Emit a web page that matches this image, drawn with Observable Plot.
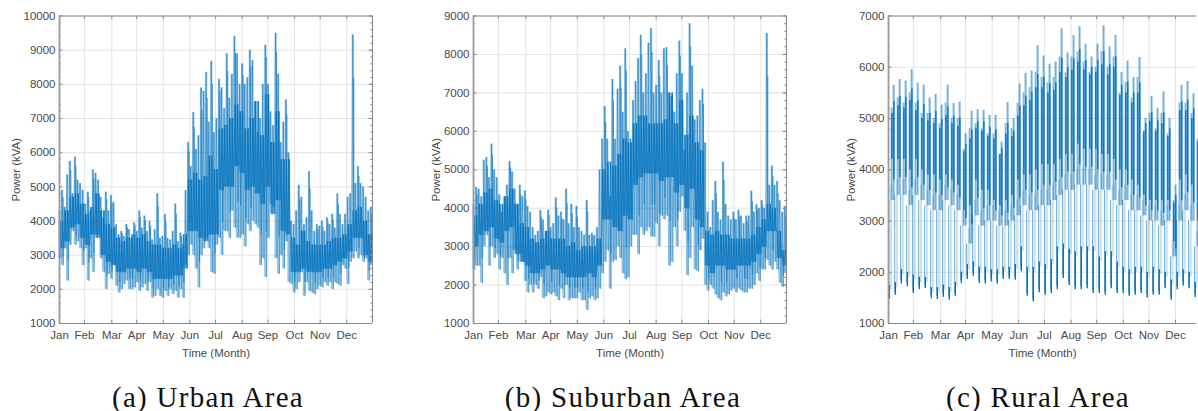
<!DOCTYPE html>
<html><head><meta charset="utf-8">
<script src="https://cdn.jsdelivr.net/npm/d3@7"></script>
<script src="https://cdn.jsdelivr.net/npm/@observablehq/plot@0.6"></script>
<style>
html,body{margin:0;padding:0;background:#fff;width:1198px;height:411px;overflow:hidden}
#wrap{position:relative;width:1198px;height:411px}
#wrap svg{position:absolute;top:0;overflow:visible}
.cap{position:absolute;top:381px;font-family:"Liberation Serif",serif;font-size:29px;letter-spacing:1.3px;color:#111;white-space:nowrap;transform:translateX(-50%);line-height:32px}
</style></head><body><div id="wrap"></div>
<script>
const monthNames=["Jan","Feb","Mar","Apr","May","Jun","Jul","Aug","Sep","Oct","Nov","Dec"];
const monthDays=[0,29,61,90,121,152,182,213,243,274,304,335];
const captions=["(a) Urban Area","(b) Suburban Area","(c) Rural Area"];

// Urban: sampled every 3 days (peak/trough) and every 6 days (dense core)
const urbanHi=[4300,4900,4400,5350,5750,4800,5870,5200,5100,4900,
4500,4850,4300,5500,5400,5200,4700,4100,4850,4300,
4750,4550,3900,3600,3700,3550,3900,3750,3500,3950,
3700,4300,3800,4150,3700,4000,3450,3750,4800,3500,
3550,4200,3500,3450,3700,4500,3400,3650,3300,4900,
6300,5600,7180,6100,6500,7900,7800,8350,6900,8680,
6600,7000,8150,7900,7300,8900,7600,8300,9400,8900,
8000,8600,8000,8200,9000,8700,7500,6600,7000,8000,
9150,8000,7200,6800,9500,8300,6300,6900,7550,6000,
4000,3900,4300,5050,4700,3900,4100,5450,4300,3700,
3900,3850,4000,3700,4100,3900,4200,3800,4800,4200,
3900,4200,4700,4800,9450,5100,5600,5100,5000,4700,
4300,4400];
const urbanLo=[2900,2700,3200,2250,3300,3700,3300,3400,3200,2700,
3200,2250,2900,2500,3600,3600,2900,2500,2000,2450,
2300,2700,2100,1900,2000,2150,2250,2000,2000,2050,
2200,1950,2050,2150,1950,2200,1750,1800,2000,1800,
1750,1950,1800,2000,1850,1950,1750,2000,1750,2700,
3000,3300,3000,2600,2050,3000,3200,3500,3200,2500,
2450,3300,3500,3000,3700,3700,3500,4300,3800,3500,
3500,3600,3250,3900,3700,4000,3900,3800,2700,2900,
2350,3500,4500,4400,2900,2450,3000,2600,3400,2200,
2150,1900,2000,2200,2500,1800,2200,1950,1900,1850,
2000,2100,2050,2200,2100,2200,2000,2200,2150,2100,
2700,2600,2150,2800,2900,3100,2900,3000,2800,2900,
2250,2700];
const urbanCoreHi=[4000,4300,4700,4800,4500,4200,4400,4800,4300,3900,
3800,3500,3400,3500,3600,3500,3600,3400,3300,3300,
3200,3200,3300,3200,3600,5200,5400,5200,5300,5900,
5500,6700,6800,7000,7400,7200,6700,7000,7500,6500,
7700,6300,7200,5800,5800,3500,3300,3700,3400,3300,
3300,3300,3400,3500,3500,3600,3900,4300,4400,4000,3600];
const urbanCoreLo=[3200,3400,3800,3900,3500,3300,3600,3500,3000,2800,
2700,2500,2500,2600,2600,2500,2600,2500,2300,2300,
2300,2300,2400,2400,2600,3700,3700,3500,3400,3600,
3600,4900,5000,5000,5600,5400,4900,5000,4800,4500,
5000,4200,4600,3700,3600,2500,2500,2600,2500,2500,
2500,2600,2600,2700,2800,2900,3100,3500,3500,3000,2800];

// Suburban
const suburbanHi=[4100,4550,4500,4300,5250,5320,4800,5670,5000,4800,
4350,3900,4300,4600,5220,4950,4500,4100,4600,4300,
4450,4050,3900,3500,3300,3400,3950,3700,3400,3950,
3500,3600,4270,3800,3900,3700,4500,3600,4100,3500,
4050,3500,3400,3300,4200,3300,3350,3300,3500,5000,
5800,6650,5800,4300,7350,5800,7100,7700,6500,8150,
6000,5800,6800,7300,7900,8500,7000,7500,8300,8680,
7000,7200,7850,7000,8150,8180,7000,6900,6500,7500,
8350,7500,5500,7000,8800,7700,6300,6400,6800,7100,
5700,3900,3500,4200,4700,3900,3700,5200,4100,3800,
3700,3900,3700,3950,3800,3600,3800,3800,4450,3900,
4100,4000,4200,4000,8550,4600,5100,4600,4700,4200,
3900,4050];
const suburbanLo=[2400,2500,2500,2050,3000,3300,2500,3000,2700,2800,
2400,2700,2300,2000,2700,2300,2900,2400,2800,2600,
2100,1800,2000,1800,2000,1900,2200,1650,1700,1800,
1750,1800,1700,1600,1900,1650,2000,1600,1650,1650,
1650,1800,1600,1600,1350,1650,1700,1600,1650,1900,
2300,2600,2900,1900,2600,2650,3000,2700,2300,2150,
2200,3000,3300,3300,2800,3500,3300,3400,3500,3250,
3250,3600,3000,3800,3700,3800,2500,2600,3500,3000,
3900,4300,3400,2250,2700,3500,2400,2350,2900,3200,
2000,1850,2000,1900,1750,1650,1600,1800,1700,1750,
1850,1900,1800,1900,1850,1800,1800,1900,1900,2000,
2300,2100,2400,2400,2650,2500,2400,2600,2400,2050,
1950,2300];
const suburbanCoreHi=[3800,4100,4400,4500,4200,4100,4300,4500,4100,3600,
3500,3200,3100,3200,3400,3200,3200,3200,3000,3100,
2900,3000,3000,3000,3200,5000,5200,5100,5400,5800,
5700,6200,6400,6400,6200,6200,6200,6300,7000,6200,
6800,5900,6400,5700,5500,3400,3300,3400,3300,3300,
3200,3200,3200,3200,3300,3500,3700,4100,4000,3400,2900];
const suburbanCoreLo=[3000,3300,3400,3500,3200,3100,3400,3500,2800,2600,
2500,2300,2300,2400,2500,2400,2400,2300,2200,2200,
2200,2200,2300,2200,2500,3700,3700,3500,3400,3800,
3700,4600,4800,4900,4900,4900,4700,4800,4800,4400,
4600,4000,4500,3700,3500,2500,2300,2500,2500,2400,
2400,2500,2500,2500,2600,2800,3000,3400,3400,2700,2500];

// Rural: one entry per week (weekend trough, then the working-day band)
const ruralDipDay=[1,8,15,22,29,36,43,50,57,64,71,78,85,92,99,106,113,120,127,134,141,148,155,162,169,176,183,190,197,204,211,218,225,232,239,246,253,260,267,274,281,288,295,302,309,316,323,330,337,344,351,358];
const ruralDipLo=[1470,1550,1770,1715,1585,1660,1680,1480,1470,1510,1455,1530,1780,1860,1920,1780,1770,1810,1770,1860,1860,1845,2010,1530,1420,1600,1550,1585,1660,1880,1740,1660,1660,1680,1585,1585,1550,1680,1585,1585,1530,1550,1585,1500,1550,1550,1680,1455,1660,1730,1680,1505];
const ruralDipTop=[1750,1800,2050,2000,1950,1900,1900,1700,1700,1750,1700,1800,2000,2150,2200,2100,2100,2050,2050,2100,2100,2150,2500,2100,2100,2200,2150,2250,2500,2550,2450,2400,2500,2500,2500,2300,2400,2400,2200,2100,2050,2100,2100,2000,2100,2050,2000,1850,2000,2050,2000,1800];
const ruralBandLo=[3400,3500,3500,3300,3500,3400,3300,3200,3200,3400,3300,3200,2900,2550,3100,2900,3000,3000,2900,2900,3000,3100,3300,3200,3200,3300,3300,3400,3500,3600,3600,3700,3700,3700,3600,3600,3600,3400,3300,3400,3200,3200,3100,3000,3000,2900,3000,2300,3000,3200,3000,2500];
const ruralHi1=[5650,5760,5730,5950,5690,5650,5400,5470,5260,5650,5290,5320,4700,5140,5170,5160,5060,5060,4540,5310,5000,5680,5880,5930,6420,6220,6060,6100,6750,6280,6620,6790,6450,6200,6450,6810,6400,6620,5900,6120,5800,6190,5000,5430,5200,5520,5000,3700,5650,5720,5480,5020];
const ruralHi2=[5200,5400,5300,5500,5300,5100,5100,5000,4900,5300,5000,5000,4400,4800,4900,4800,4700,4700,4300,4900,4800,5300,5500,5600,5900,5800,5700,5800,6200,5900,6200,6300,6100,5900,6000,6300,6000,6200,5500,5700,5400,5800,4700,5100,4800,5100,4700,3400,5300,5300,5100,4600];
const ruralCoreHi=[5000,5100,5100,5200,5000,4900,4800,4800,4700,4800,4800,4700,4300,4400,4700,4700,4600,4500,4300,4500,4500,4800,5000,5100,5300,5400,5300,5300,5600,5700,5700,5900,5800,5800,5800,5800,5700,5800,5400,5300,5200,5200,4800,4800,4700,4700,4600,3300,5000,5000,4900,4500];
const ruralCoreLo=[4200,4200,4200,4000,4200,4000,3900,3900,3800,3900,3800,3700,3200,3300,3800,3600,3600,3400,3300,3400,3500,3800,3900,3900,4000,4100,4100,4100,4200,4300,4300,4500,4400,4400,4400,4300,4300,4200,4000,4000,3800,3700,3500,3400,3400,3400,3400,2600,3800,3900,3700,3000];

const BLUE="#0072BD", TXT="#4a4a4a", FONT="Liberation Sans, Arial, sans-serif";

function gridMarks(major){
  return [
    Plot.ruleX(monthDays,{stroke:"#e4e4e4",strokeWidth:1}),
    Plot.ruleY(major,{stroke:"#e4e4e4",strokeWidth:1})
  ];
}
function axisMarks(o,rightFrame){
  const {xEnd,yMin,yMax,major,minor}=o;
  const c="#8a8a8a", dy=(yMax-yMin)*0.011, dx=xEnd*0.011;
  const out=[
    Plot.axisX({ticks:monthDays,tickFormat:(d)=>monthNames[monthDays.indexOf(d)],tickSize:0,tickPadding:7,
      label:"Time (Month)",labelAnchor:"center",labelArrow:"none",labelOffset:33,fontSize:11.5,color:TXT,fontFamily:FONT}),
    Plot.axisY({ticks:major,tickFormat:d3.format("d"),tickSize:0,tickPadding:4,
      label:"Power (kVA)",labelAnchor:"center",labelArrow:"none",labelOffset:o.ylabOff,fontSize:11.5,color:TXT,fontFamily:FONT}),
    Plot.ruleY(major,{x1:0,x2:dx,stroke:c}),
    Plot.ruleY(minor,{x1:0,x2:dx/2,stroke:c}),
    Plot.ruleX(monthDays,{y1:yMin,y2:yMin+dy,stroke:c}),
    Plot.ruleX(monthDays,{y1:yMax,y2:yMax-dy,stroke:c}),
    Plot.ruleY([yMin,yMax],{stroke:c,strokeWidth:1.2}),
    Plot.ruleX([0],{stroke:"#9a9a9a",strokeWidth:1.8})
  ];
  if(rightFrame){
    out.push(Plot.ruleX([xEnd],{stroke:c,strokeWidth:1.1}));
    out.push(Plot.ruleY(major,{x1:xEnd-dx,x2:xEnd,stroke:c}));
    out.push(Plot.ruleY(minor,{x1:xEnd-dx/2,x2:xEnd,stroke:c}));
  }
  return out;
}
function base(o){
  return {width:o.left+o.w+2,height:372,marginLeft:o.left,marginRight:2,marginTop:15.5,marginBottom:49,
    x:{domain:[0,o.xEnd],axis:null},y:{domain:[o.yMin,o.yMax],axis:null},
    style:{background:"transparent",fontFamily:FONT,position:"absolute",left:(o.x0-o.left)+"px",overflow:"visible"}};
}
function densePanel(o){
  const idx=d3.range(o.hi.length);
  const n=o.coreHi.length;
  const cH=i=>o.coreHi[Math.min(n-1,i>>1)], cL=i=>o.coreLo[Math.min(n-1,i>>1)];
  const isPeak=i=>o.hi[i]>=(o.hi[i-1]??0)&&o.hi[i]>=(o.hi[i+1]??0);
  const isPit=i=>o.lo[i]<=(o.lo[i-1]??1e9)&&o.lo[i]<=(o.lo[i+1]??1e9);
  const zig=idx.flatMap(i=>[{d:i*3,v:o.hi[i]},{d:i*3+1.5,v:o.lo[i]}]);
  const coreZig=idx.flatMap(i=>[{d:i*3+.7,v:cH(i)},{d:i*3+2.2,v:cL(i)}]);
  return Plot.plot({...base(o),marks:[
    ...gridMarks(o.major),
    Plot.ruleX(idx,{x:i=>i*3,y1:i=>o.lo[i],y2:i=>o.hi[i],stroke:BLUE,strokeOpacity:.42,strokeWidth:2.3}),
    Plot.line(zig,{x:"d",y:"v",stroke:BLUE,strokeOpacity:.55,strokeWidth:.7}),
    Plot.ruleX(idx,{x:i=>i*3+1.2,y1:i=>isPit(i)?(cL(i)+o.lo[i])/2:cL(i),y2:i=>isPeak(i)?o.hi[i]-(o.hi[i]-cH(i))*.25:cH(i),stroke:BLUE,strokeOpacity:.65,strokeWidth:1.1}),
    Plot.ruleX(idx,{x:i=>i*3+.3,y1:i=>cL(i),y2:i=>cH(i),stroke:BLUE,strokeOpacity:.5,strokeWidth:1.4}),
    Plot.line(coreZig,{x:"d",y:"v",stroke:BLUE,strokeOpacity:.7,strokeWidth:.8}),
    ...axisMarks(o,true)
  ]});
}
function ruralPanel(o){
  const w=d3.range(ruralDipDay.length);
  const day=i=>ruralDipDay[i];
  return Plot.plot({...base(o),marks:[
    ...gridMarks(o.major),
    Plot.ruleX(w,{x:i=>day(i)-.8,y1:i=>ruralDipLo[i]+60,y2:i=>ruralBandLo[i],stroke:BLUE,strokeOpacity:.55,strokeWidth:1.1}),
    Plot.ruleX(w,{x:i=>day(i)+1.8,y1:i=>ruralDipTop[i]-100,y2:i=>ruralBandLo[i]+300,stroke:BLUE,strokeOpacity:.2,strokeWidth:2.2}),
    Plot.ruleX(w,{x:i=>day(i)+2.6,y1:i=>ruralBandLo[i],y2:i=>ruralHi2[i],stroke:BLUE,strokeOpacity:.5,strokeWidth:1.8}),
    Plot.ruleX(w,{x:i=>day(i)+5,y1:i=>ruralBandLo[i],y2:i=>ruralHi1[i],stroke:BLUE,strokeOpacity:.55,strokeWidth:2}),
    Plot.ruleX(w,{x:i=>day(i)+3,y1:i=>ruralCoreLo[i],y2:i=>(ruralCoreHi[i]+ruralHi2[i])/2,stroke:BLUE,strokeOpacity:.85,strokeWidth:1.7}),
    Plot.ruleX(w,{x:i=>day(i)+5.3,y1:i=>(ruralCoreLo[i]+ruralBandLo[i])/2,y2:i=>(ruralCoreHi[i]+ruralHi1[i])/2,stroke:BLUE,strokeOpacity:.9,strokeWidth:1.5}),
    Plot.ruleX(w,{x:day,y1:i=>ruralDipLo[i],y2:i=>ruralDipTop[i],stroke:BLUE,strokeWidth:1.4}),
    ...axisMarks(o,false)
  ]});
}
function ticks(a,b,s){return d3.range(a,b+1,s);}
const wrap=document.getElementById("wrap");
wrap.append(densePanel({x0:59,left:59,w:313,xEnd:365,yMin:1000,yMax:10000,ylabOff:48,major:ticks(1000,10000,1000),minor:ticks(1000,10000,200),hi:urbanHi,lo:urbanLo,coreHi:urbanCoreHi,coreLo:urbanCoreLo}));
wrap.append(densePanel({x0:473,left:59,w:313,xEnd:365,yMin:1000,yMax:9000,ylabOff:42,major:ticks(1000,9000,1000),minor:ticks(1000,9000,200),hi:suburbanHi,lo:suburbanLo,coreHi:suburbanCoreHi,coreLo:suburbanCoreLo}));
wrap.append(ruralPanel({x0:888,left:59,w:308,xEnd:359.5,yMin:1000,yMax:7000,ylabOff:42,major:ticks(1000,7000,1000),minor:ticks(1000,7000,200)}));
[[208,captions[0]],[623,captions[1]],[1038,captions[2]]].forEach(([x,t])=>{
  const d=document.createElement("div");d.className="cap";d.style.left=x+"px";d.textContent=t;wrap.append(d);
});
</script></body></html>
